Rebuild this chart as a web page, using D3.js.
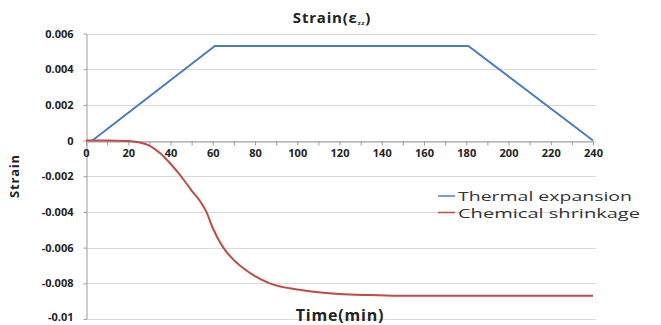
<!DOCTYPE html>
<html>
  <head>
    <meta charset="UTF-8" />
    <script src="https://cdnjs.cloudflare.com/ajax/libs/d3/7.8.5/d3.min.js"></script>
    <style>
      body { margin: 0; background: #fff; }
      text { font-family: "Open Sans", "DejaVu Sans", sans-serif; fill: #222; }
      .grid line { stroke: #d9d9d9; }
      .axis path, .axis line { stroke: #9a9a9a; }
      .axis text { font-weight: bold; font-size: 11px; }
    </style>
  </head>
  <body>
    <svg width="661" height="325"></svg>
    <script>
      // time (min), strain
      let thermalT = [3, 61, 181, 240];
      let thermalV = [0, 0.0053, 0.0053, 0];

      let chemT = [0, 10, 20, 25, 30, 35, 40, 45, 50, 54, 57, 60, 65, 70, 75, 80, 87, 100, 110, 120, 135, 150, 240];
      let chemV = [0, 0, -0.00002, -0.0001, -0.00028, -0.0007, -0.0013, -0.002, -0.0028, -0.0034, -0.004,
                   -0.0049, -0.006, -0.0067, -0.0072, -0.0076, -0.008, -0.00835, -0.0085, -0.0086, -0.00866, -0.0087, -0.0087];

      let yTicks = [0.006, 0.004, 0.002, 0, -0.002, -0.004, -0.006, -0.008, -0.01];
      let yLabels = ["0.006", "0.004", "0.002", "0", "-0.002", "-0.004", "-0.006", "-0.008", "-0.01"];

      let seriesNames = ["Thermal expansion", "Chemical shrinkage"];
      let colors = ["#4a7ebb", "#be4b48"];

      let svg = d3.select("svg");

      let xScale = d3.scaleLinear().domain([0, 240]).range([86, 593]);
      let yScale = d3.scaleLinear().domain([-0.01, 0.006]).range([319, 33.5]);

      // gridlines
      svg.append("g").attr("class", "grid")
        .selectAll("line").data(yTicks).enter().append("line")
        .attr("x1", 86).attr("x2", 596)
        .attr("y1", d => Math.round(yScale(d)) + 0.5)
        .attr("y2", d => Math.round(yScale(d)) + 0.5);

      // y axis
      let yAxis = d3.axisLeft(yScale).tickValues(yTicks)
        .tickFormat((d, i) => yLabels[i]).tickSize(3).tickSizeOuter(0).tickPadding(10);
      let gy = svg.append("g").attr("class", "axis").attr("transform", "translate(86.5,0)").call(yAxis);
      gy.selectAll("text").attr("dy", (d, i) => i === yTicks.length - 1 ? "0.1em" : "0.32em");

      // x axis at y = 0
      let xAxis = d3.axisBottom(xScale).tickValues(d3.range(0, 241, 10))
        .tickFormat(d => d % 20 === 0 ? d : "").tickSize(4).tickSizeOuter(0).tickPadding(4);
      svg.append("g").attr("class", "axis")
        .attr("transform", "translate(0," + (Math.round(yScale(0)) + 0.5) + ")").call(xAxis);

      let line = d3.line().x(d => xScale(d[0])).y(d => yScale(d[1]));

      svg.append("path")
        .datum(thermalT.map((t, i) => [t, thermalV[i]]))
        .attr("fill", "none").attr("stroke", colors[0]).attr("stroke-width", 2)
        .attr("d", line);

      svg.append("path")
        .datum(chemT.map((t, i) => [t, chemV[i]]))
        .attr("fill", "none").attr("stroke", colors[1]).attr("stroke-width", 2)
        .attr("d", line.curve(d3.curveMonotoneX));

      // title
      let title = svg.append("text").attr("x", 332).attr("y", 23)
        .attr("text-anchor", "middle").style("font-weight", "bold").style("font-size", "15px")
        .style("letter-spacing", "0.8px");
      title.append("tspan").text("Strain(ε");
      title.append("tspan").text("zz").style("font-size", "6px").attr("dy", 2);
      title.append("tspan").text(")").attr("dy", -2);

      // axis titles
      svg.append("text").attr("x", 340).attr("y", 321)
        .attr("text-anchor", "middle").style("font-weight", "bold").style("font-size", "16px")
        .style("letter-spacing", "0.8px")
        .text("Time(min)");

      svg.append("text").attr("transform", "translate(19,176) rotate(-90)")
        .attr("text-anchor", "middle").style("font-weight", "bold").style("font-size", "13px")
        .style("letter-spacing", "0.8px")
        .text("Strain");

      // legend
      let legend = svg.append("g").selectAll("g").data(seriesNames).enter().append("g")
        .attr("transform", (d, i) => "translate(438," + (196 + i * 16.5) + ")");
      legend.append("line").attr("x1", 0).attr("x2", 17)
        .attr("stroke", (d, i) => colors[i]).attr("stroke-width", 1.5);
      legend.append("text").attr("x", 20).attr("y", 5)
        .style("font-size", "12px").style("fill", "#333")
        .attr("textLength", (d, i) => [174, 182][i]).attr("lengthAdjust", "spacingAndGlyphs")
        .text(d => d);
    </script>
  </body>
</html>
